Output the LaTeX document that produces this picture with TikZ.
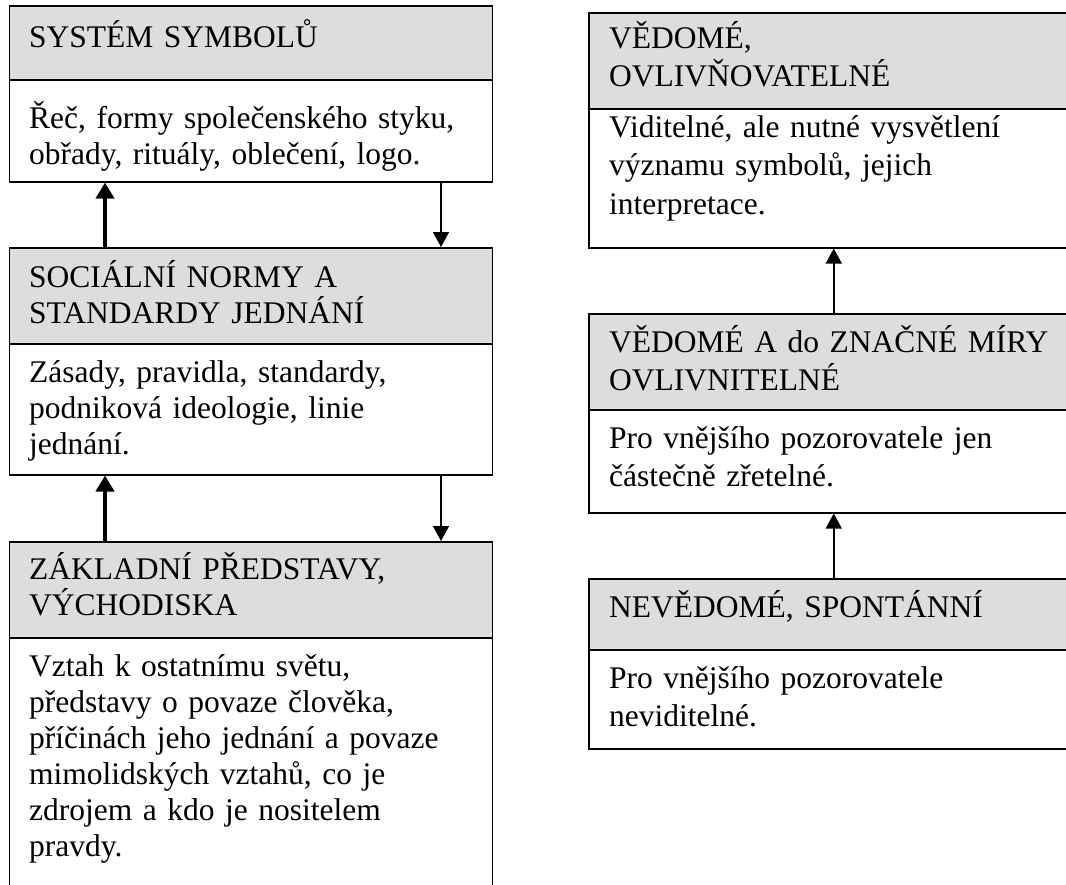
\documentclass[tikz,border=0pt]{standalone}
\usepackage{fontspec}
\setmainfont{Liberation Serif}
\usetikzlibrary{calc,arrows.meta}
\definecolor{hdr}{RGB}{221,221,221}
\begin{document}
\begin{tikzpicture}[x=1pt,y=-1pt,
  boxbase/.style={rectangle, draw=black, line width=1.5pt, inner sep=0pt, anchor=north west},
  hdrbox/.style={boxbase, fill=hdr},
  bodybox/.style={boxbase, fill=white},
  lefttxt/.style={anchor=base west, inner sep=0pt, text width=470pt, align=left, font=\fontsize{31.5}{36}\selectfont},
  righttxt/.style={anchor=base west, inner sep=0pt, text width=470pt, align=left, font=\fontsize{31.5}{38.5}\selectfont},
  thinarrow/.style={line width=1.5pt, -{Triangle[width=16pt,length=15pt]}},
  thickarrow/.style={line width=4pt, -{Triangle[width=18pt,length=16pt]}}
]
\useasboundingbox (0,0) rectangle (1066,884);

% left column
\node[hdrbox, minimum width=483pt, minimum height=74pt] (h1) at (8.5,5) {};
\node[bodybox, minimum width=483pt, minimum height=102pt] (b1) at (8.5,79) {};
\node[hdrbox, minimum width=483pt, minimum height=96pt] (h2) at (8.5,247) {};
\node[bodybox, minimum width=483pt, minimum height=131pt] (b2) at (8.5,343) {};
\node[hdrbox, minimum width=483pt, minimum height=96pt] (h3) at (8.5,541) {};
\node[bodybox, minimum width=483pt, minimum height=263pt] (b3) at (8.5,637) {};

% right column
\node[hdrbox, minimum width=490pt, minimum height=96pt] (r1h) at (588,12) {};
\node[bodybox, minimum width=490pt, minimum height=139pt] (r1b) at (588,108) {};
\node[hdrbox, minimum width=490pt, minimum height=96pt] (r2h) at (588,313) {};
\node[bodybox, minimum width=490pt, minimum height=103pt] (r2b) at (588,409) {};
\node[hdrbox, minimum width=490pt, minimum height=71pt] (r3h) at (588,578) {};
\node[bodybox, minimum width=490pt, minimum height=99pt] (r3b) at (588,649) {};

% texts left
\node[lefttxt] (t1) at (29,47) {SYSTÉM SYMBOLŮ};
\node[lefttxt] (t2) at (29,128) {Řeč, formy společenského styku,\\obřady, rituály, oblečení, logo.};
\node[lefttxt] (t3) at (29,287) {SOCIÁLNÍ NORMY A\\STANDARDY JEDNÁNÍ};
\node[lefttxt] (t4) at (29,382) {Zásady, pravidla, standardy,\\podniková ideologie, linie\\jednání.};
\node[lefttxt] (t5) at (29,579) {ZÁKLADNÍ PŘEDSTAVY,\\VÝCHODISKA};
\node[lefttxt] (t6) at (29,676) {Vztah k ostatnímu světu,\\představy o povaze člověka,\\příčinách jeho jednání a povaze\\mimolidských vztahů, co je\\zdrojem a kdo je nositelem\\pravdy.};

% texts right
\node[righttxt] (u1) at (609,48) {VĚDOMÉ,\\OVLIVŇOVATELNÉ};
\node[righttxt] (u2) at (609,137) {Viditelné, ale nutné vysvětlení\\významu symbolů, jejich\\interpretace.};
\node[righttxt] (u3) at (609,352) {VĚDOMÉ A do ZNAČNÉ MÍRY\\OVLIVNITELNÉ};
\node[righttxt] (u4) at (609,448) {Pro vnějšího pozorovatele jen\\částečně zřetelné.};
\node[righttxt] (u5) at (609,617) {NEVĚDOMÉ, SPONTÁNNÍ};
\node[righttxt] (u6) at (609,688) {Pro vnějšího pozorovatele\\neviditelné.};

% connectors left
\draw[thickarrow] ($(h2.north west)+(96.5,0)$) -- ($(b1.south west)+(96.5,0)$);
\draw[thinarrow] ($(b1.south west)+(432.5,0)$) -- ($(h2.north west)+(432.5,0)$);
\draw[thickarrow] ($(h3.north west)+(96.5,0)$) -- ($(b2.south west)+(96.5,0)$);
\draw[thinarrow] ($(b2.south west)+(432.5,0)$) -- ($(h3.north west)+(432.5,0)$);

% connectors right
\draw[thinarrow] (r2h.north) -- (r1b.south);
\draw[thinarrow] (r3h.north) -- (r2b.south);
\end{tikzpicture}
\end{document}
